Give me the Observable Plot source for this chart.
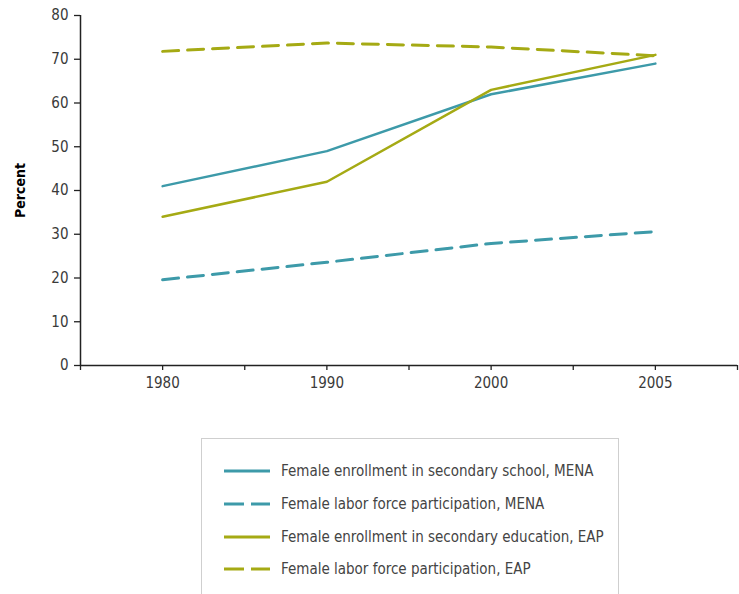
<!DOCTYPE html>
<html><head><meta charset="utf-8">
<script src="https://cdn.jsdelivr.net/npm/d3@7"></script>
<script src="https://cdn.jsdelivr.net/npm/@observablehq/plot@0.6"></script>
<style>
body{margin:0;background:#fff;font-family:"Liberation Sans Narrow","DejaVu Sans Condensed",sans-serif;}
#wrap{position:relative;width:739px;height:594px;overflow:hidden;}
#chart{position:absolute;left:0;top:0;}
#legend{position:absolute;left:201px;top:438px;width:418px;height:170px;border:1px solid #cfcfcf;box-sizing:border-box;}
.row{position:absolute;left:21px;height:22px;display:flex;align-items:center;font-size:15px;color:#444;white-space:nowrap;}
.row svg{margin-right:10px;}
</style></head>
<body><div id="wrap"><div id="chart"></div><div id="legend"></div></div>
<script>
const years = ["1980", "1990", "2000", "2005"];
const menaEnrollment = [41, 49, 62, 69];
const menaLabor = [19.6, 23.6, 27.9, 30.6];
const eapEnrollment = [34, 42, 63, 71];
const eapLabor = [71.8, 73.7, 72.8, 70.8];
const yTicks = [0, 10, 20, 30, 40, 50, 60, 70, 80];

const teal = "#3d9aa9", olive = "#a5aa14";
const series = [
  {name: "Female enrollment in secondary school, MENA", values: menaEnrollment, color: teal, dash: null},
  {name: "Female labor force participation, MENA", values: menaLabor, color: teal, dash: "16,9"},
  {name: "Female enrollment in secondary education, EAP", values: eapEnrollment, color: olive, dash: null},
  {name: "Female labor force participation, EAP", values: eapLabor, color: olive, dash: "16,9"}
];

const xTicks = d3.range(-0.5, years.length, 0.5);
const font = '"Liberation Sans Narrow","DejaVu Sans Condensed",sans-serif';

const plot = Plot.plot({
  width: 739, height: 410,
  marginLeft: 80, marginRight: 2, marginTop: 15, marginBottom: 45,
  style: {fontFamily: font, background: "#fff", color: "#3a3a3a"},
  x: {domain: [-0.5, years.length - 0.5]},
  y: {domain: [0, 80]},
  marks: [
    Plot.axisY({ticks: yTicks, tickSize: 6, tickPadding: 6, fontSize: 15, label: null, stroke: "#222", strokeWidth: 1.3}),
    Plot.axisX({ticks: xTicks, tickFormat: d => Number.isInteger(d) ? years[d] : "", tickSize: 5, tickPadding: 7, fontSize: 15, label: null, stroke: "#222", strokeWidth: 1.3}),
    Plot.ruleX([-0.5], {stroke: "#222", strokeWidth: 1.5}),
    Plot.ruleY([0], {stroke: "#222", strokeWidth: 1.5}),
    Plot.text(["Percent"], {frameAnchor: "left", rotate: -90, dx: -60, textAnchor: "middle", fontSize: 14, fontWeight: "bold", fill: "#000"}),
    ...series.map(s => Plot.line(s.values, {
      x: (d, i) => i, y: d => d,
      stroke: s.color, strokeWidth: s.dash ? 3 : 2.5,
      strokeDasharray: s.dash ?? undefined
    }))
  ]
});
document.getElementById("chart").appendChild(plot);

const rowY = [32, 65, 98, 130];
const legend = d3.select("#legend");
series.forEach((s, i) => {
  const row = legend.append("div").attr("class", "row").style("top", (rowY[i] - 11) + "px");
  const svg = row.append("svg").attr("width", 48).attr("height", 6);
  svg.append("line").attr("x1", 1).attr("x2", 47).attr("y1", 3).attr("y2", 3)
    .attr("stroke", s.color).attr("stroke-width", 3)
    .attr("stroke-dasharray", s.dash ? "20,7" : null);
  row.append("span").text(s.name);
});
</script></body></html>
